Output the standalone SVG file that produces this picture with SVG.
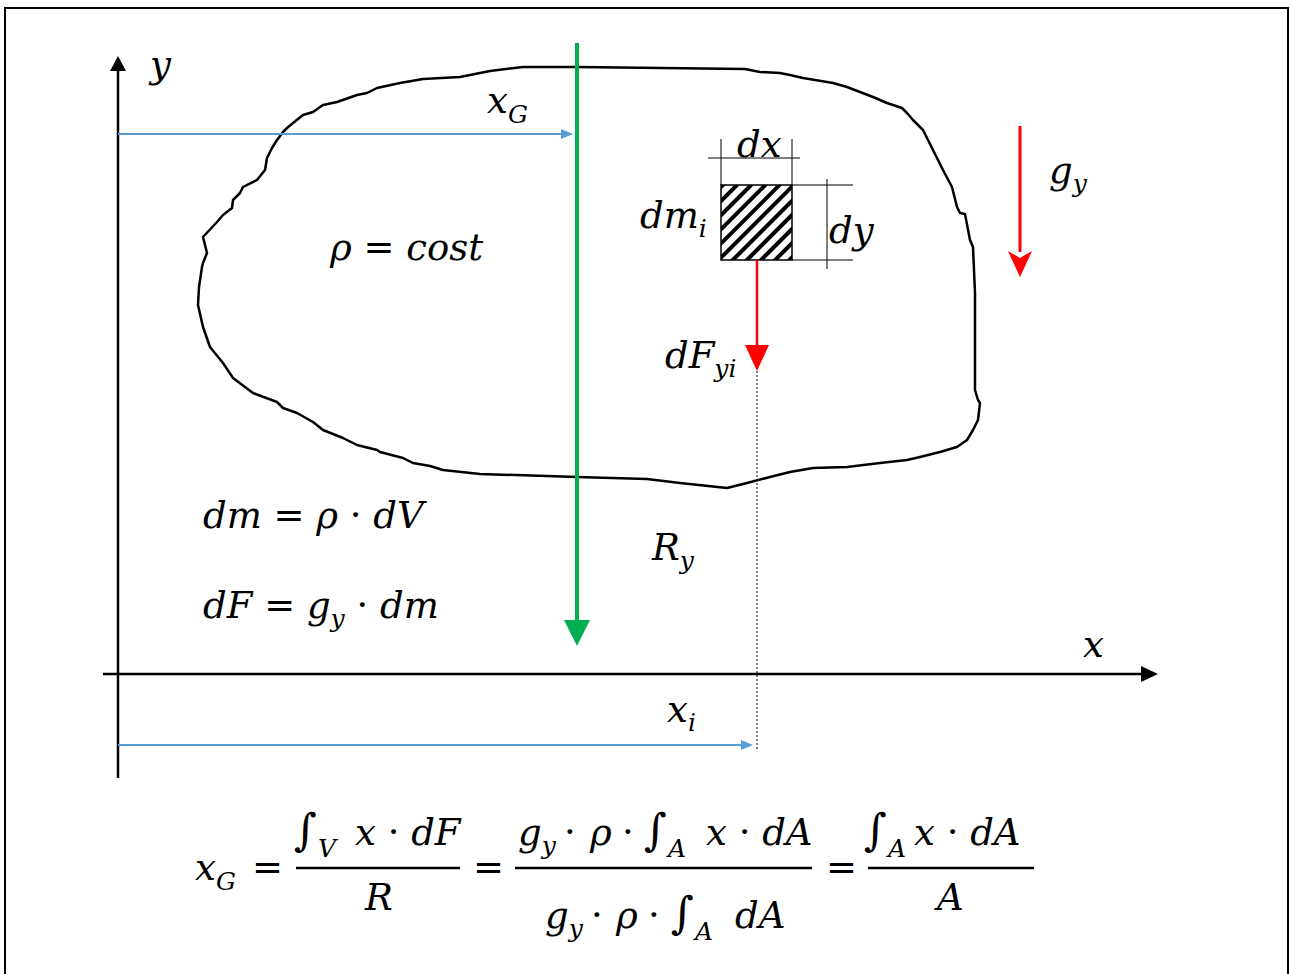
<svg xmlns="http://www.w3.org/2000/svg" width="1290" height="974" viewBox="0 0 1290 974">
<style>
.t{font-family:"DejaVu Serif","Liberation Serif",serif;font-style:italic;font-size:37px;fill:#000}
.up{font-style:normal}
.s{font-size:25px}
.int{font-size:44px;font-style:normal}
.dim{stroke:#000;stroke-width:1;fill:none}
</style>
<defs>
<pattern id="hatch" width="10" height="10" patternUnits="userSpaceOnUse" patternTransform="rotate(45)">
<rect x="0" y="0" width="4" height="10" fill="#000"/>
</pattern>
</defs>
<rect x="5" y="8" width="1283" height="975" fill="#fff" stroke="#000" stroke-width="2"/>

<g id="body">
<path d="M267,158 L272,148 L277,140 L283,132 L287,128 L293,123 L303,115 L313,112 L323,105 L337,102 L357,95 L367,93 L377,88 L400,83 L423,79 L460,77 L470,75 L490,71 L523,67 L577,67 L745,69 L760,72 L780,73 L790,75 L803,78 L833,83 L847,87 L873,97 L887,103 L902,108 L907,113 L913,120 L923,130 L933,150 L943,170 L952,187 L957,207 L960,213 L965,214 L970,240 L973,247 L975,293 L975,390 L978,400 L980,403 L978,420 L973,430 L967,440 L957,447 L940,452 L920,457 L907,460 L880,463 L847,467 L813,468 L790,472 L770,477 L747,483 L727,488 L680,483 L647,479 L577,477 L480,474 L443,470 L430,466 L413,463 L403,458 L380,452 L377,450 L357,445 L343,438 L323,430 L313,422 L297,413 L283,408 L277,402 L253,393 L233,378 L223,363 L210,347 L203,327 L198,305 L199,287 L202,267 L203,263 L207,253 L203,237 L217,222 L223,215 L232,208 L233,200 L240,193 L243,187 L257,180 L265,170 Z" fill="none" stroke="#000" stroke-width="2.5" stroke-linejoin="round"/>
</g>

<g id="element">
<rect x="721" y="185" width="71" height="75" fill="url(#hatch)" stroke="#000" stroke-width="1.5"/>
<line class="dim" x1="708" y1="158" x2="800" y2="158"/>
<line class="dim" x1="721" y1="139" x2="721" y2="185"/>
<line class="dim" x1="792" y1="139" x2="792" y2="185"/>
<line class="dim" x1="792" y1="185" x2="853" y2="185"/>
<line class="dim" x1="792" y1="260" x2="853" y2="260"/>
<line class="dim" x1="827" y1="179" x2="827" y2="269"/>
</g>

<g id="connectors">
<line x1="118" y1="778" x2="118" y2="70" stroke="#000" stroke-width="2.5"/>
<path d="M118,56 L126,71 L110,71 Z" fill="#000"/>
<line x1="103" y1="674" x2="1143" y2="674" stroke="#000" stroke-width="2.5"/>
<path d="M1158,674 L1141,666 L1141,682 Z" fill="#000"/>
<line x1="577" y1="43" x2="577" y2="622" stroke="#00B050" stroke-width="4"/>
<path d="M577,646 L564,620 L590,620 Z" fill="#00B050"/>
<line x1="118" y1="134" x2="562" y2="134" stroke="#5B9BD5" stroke-width="2"/>
<path d="M573,134 L561,129 L561,139 Z" fill="#5B9BD5"/>
<line x1="118" y1="745" x2="742" y2="745" stroke="#5B9BD5" stroke-width="2"/>
<path d="M753,745 L741,740 L741,750 Z" fill="#5B9BD5"/>
<line x1="757" y1="260" x2="757" y2="347" stroke="#FF0000" stroke-width="2.5"/>
<path d="M757,371 L745,345 L769,345 Z" fill="#FF0000"/>
<line x1="1020" y1="126" x2="1020" y2="252" stroke="#FF0000" stroke-width="3"/>
<path d="M1020,277 L1008,251 L1020,258 L1032,251 Z" fill="#FF0000"/>
<line x1="757" y1="371" x2="757" y2="750" stroke="#000" stroke-width="1" stroke-dasharray="2,2"/>
</g>

<g id="labels">
<text class="t" x="150" y="77">y</text>
<text class="t" x="487" y="113">x<tspan class="s" dy="10">G</tspan></text>
<text class="t" x="737" y="157">dx</text>
<text class="t" x="640" y="228">dm<tspan class="s" dy="9">i</tspan></text>
<text class="t" x="829" y="243">dy</text>
<text class="t" x="330" y="260">ρ <tspan class="up">=</tspan> cost</text>
<text class="t" x="665" y="368">dF<tspan class="s" dy="9">yi</tspan></text>
<text class="t" x="1049" y="183">g<tspan class="s" dy="9">y</tspan></text>
<text class="t" x="203" y="528">dm <tspan class="up">=</tspan> ρ <tspan class="up">·</tspan> dV</text>
<text class="t" x="203" y="618">dF <tspan class="up">=</tspan> g<tspan class="s" dy="9">y</tspan><tspan dy="-9"> </tspan><tspan class="up">·</tspan> dm</text>
<text class="t" x="652" y="560">R<tspan class="s" dy="9">y</tspan></text>
<text class="t" x="1083" y="657">x</text>
<text class="t" x="667" y="722">x<tspan class="s" dy="9">i</tspan></text>
</g>

<g id="formula">
<text class="t" x="195" y="880">x<tspan class="s" dy="10">G</tspan></text>
<text class="t up" x="252" y="880">=</text>
<text class="t int" x="294" y="845">∫</text>
<text class="t s" x="318" y="857">V</text>
<text class="t" x="355" y="845">x <tspan class="up">·</tspan> dF</text>
<line x1="296" y1="868" x2="460" y2="868" stroke="#000" stroke-width="2.5"/>
<text class="t" x="365" y="910">R</text>
<text class="t up" x="473" y="880">=</text>
<text class="t" x="518" y="845">g<tspan class="s" dy="9">y</tspan><tspan class="up" x="564" dy="-9">·</tspan><tspan x="590">ρ</tspan><tspan class="up" x="622">·</tspan></text>
<text class="t int" x="644" y="845">∫</text>
<text class="t s" x="668" y="857">A</text>
<text class="t" x="706" y="845">x <tspan class="up">·</tspan> dA</text>
<line x1="515" y1="868" x2="812" y2="868" stroke="#000" stroke-width="2.5"/>
<text class="t" x="545" y="928">g<tspan class="s" dy="9">y</tspan><tspan class="up" x="591" dy="-9">·</tspan><tspan x="616">ρ</tspan><tspan class="up" x="648">·</tspan></text>
<text class="t int" x="671" y="928">∫</text>
<text class="t s" x="695" y="940">A</text>
<text class="t" x="735" y="928">dA</text>
<text class="t up" x="826" y="880">=</text>
<text class="t int" x="864" y="845">∫</text>
<text class="t s" x="888" y="857">A</text>
<text class="t" x="914" y="845">x <tspan class="up">·</tspan> dA</text>
<line x1="868" y1="868" x2="1034" y2="868" stroke="#000" stroke-width="2.5"/>
<text class="t" x="937" y="910">A</text>
</g>
</svg>
